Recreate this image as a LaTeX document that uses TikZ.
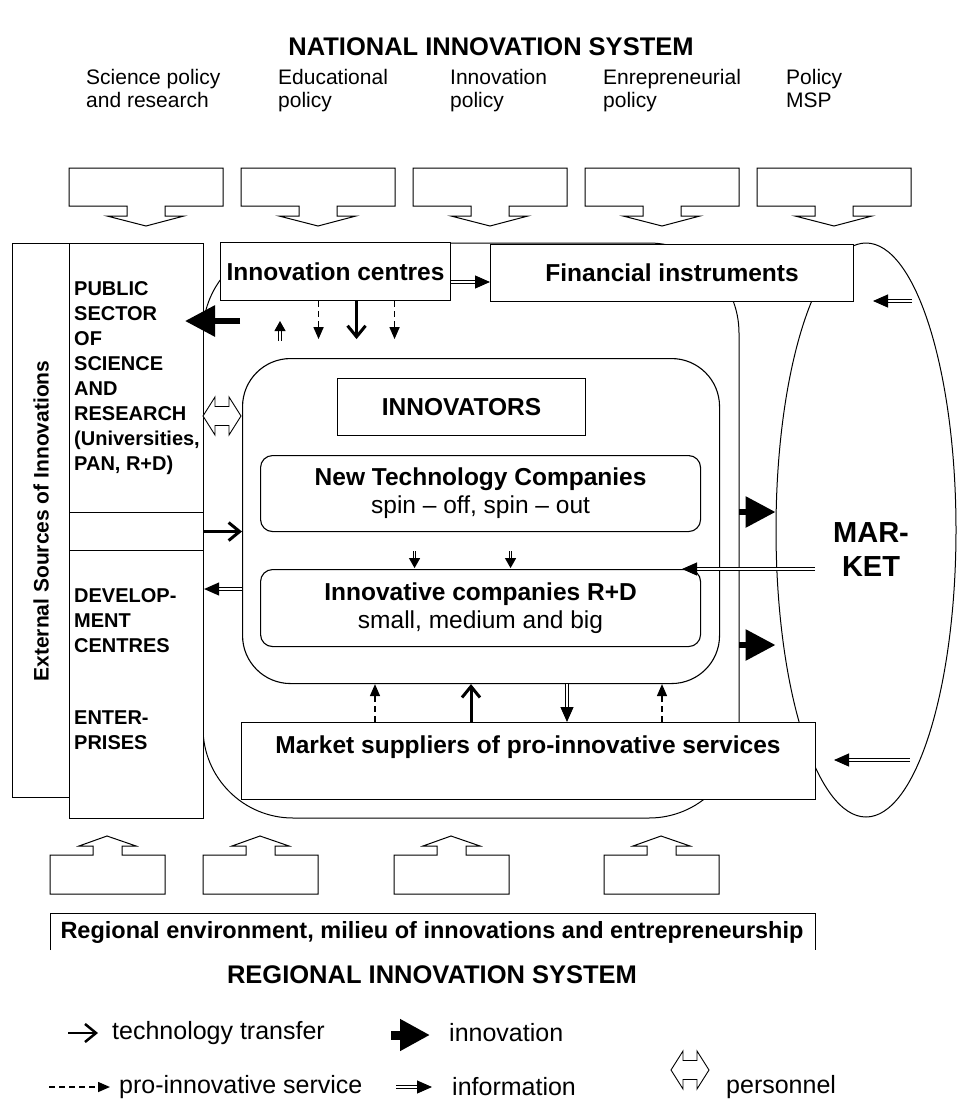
\documentclass[tikz,border=0pt]{standalone}
\usepackage{fontspec}
\setmainfont{Liberation Sans}
\usetikzlibrary{positioning,arrows.meta,shapes.geometric}

\newcommand\headfont{\fontsize{25.5}{30}\selectfont\bfseries}
\newcommand\polfont{\fontsize{21}{23}\selectfont}
\newcommand\boxfont{\fontsize{24.5}{28}\selectfont\bfseries}
\newcommand\sidefont{\fontsize{20}{25}\selectfont\bfseries}
\newcommand\extfont{\fontsize{21}{25}\selectfont\bfseries}
\newcommand\mktfont{\fontsize{29}{34}\selectfont\bfseries}
\newcommand\regfont{\fontsize{23.5}{27}\selectfont\bfseries}
\newcommand\legfont{\fontsize{25}{30}\selectfont}

\begin{document}
\begin{tikzpicture}[x=1pt, y=-1pt,
  box/.style={draw, fill=white, line width=1.1pt, inner sep=0pt, anchor=north west},
  sidetext/.style={anchor=north west, align=left, inner sep=0pt, font=\sidefont},
  poltext/.style={anchor=north west, align=left, inner sep=0pt, font=\polfont},
  legtext/.style={anchor=west, inner sep=0pt, font=\legfont},
  blockarrow/.style={draw, line width=1pt, fill=white},
  tech/.style={line width=3pt, -{Straight Barb[length=11pt,width=18pt]}},
  service/.style={line width=1.5pt, dash pattern=on 6pt off 4pt, -{Triangle[length=12pt,width=10pt]}},
  info/.style={double, double distance=1.4pt, line width=1.1pt, -{Triangle[length=15pt,width=13pt]}},
  smallinfo/.style={info, -{Triangle[length=10pt,width=11pt]}},
  innov/.style={line width=6pt, -{Triangle[length=30pt,width=30pt]}},
  pers/.pic={\draw[line width=0.9pt, fill=white] (-19,0) -- (-7,-19) -- (-7,-9.5) -- (7,-9.5) -- (7,-19) -- (19,0) -- (7,19) -- (7,9.5) -- (-7,9.5) -- (-7,19) -- cycle;}
]
\useasboundingbox (0,0) rectangle (957,1101);

% national level
\node[font=\headfont] (nis) at (491,47) {NATIONAL INNOVATION SYSTEM};
\foreach \px/\ptext [count=\i] in {86/{Science policy\\and research}, 278/{Educational\\policy}, 450/{Innovation\\policy}, 603/{Enrepreneurial\\policy}, 786/{Policy\\MSP}}
  \node[poltext] (pol\i) at (\px,69) {\ptext};
\foreach \bx in {69,241,413,585,757}
  \draw[blockarrow] (\bx,168) -- (\bx+154,168) -- (\bx+154,206) -- (\bx+96,206) -- (\bx+96,216) -- (\bx+115,216)
    -- (\bx+77,226) -- (\bx+38,216) -- (\bx+58,216) -- (\bx+58,206) -- (\bx,206) -- cycle;

% region and market
\draw[line width=1pt, rounded corners=90pt] (203,243) rectangle (739,818);
\node[draw, ellipse, line width=1pt, minimum width=180pt, minimum height=574pt, inner sep=0pt] (mkt) at (866,530) {};

% external sources
\node[box, minimum width=57pt, minimum height=554pt] (ext) at (12,243) {};
\node[font=\extfont, rotate=90] (extlab) at (41,521) {External Sources of Innovations};
\node[box, minimum width=134pt, minimum height=269pt] (pub) at (69,243) {};
\node[box, minimum width=134pt, minimum height=38pt] (mid) at (69,512) {};
\node[box, minimum width=134pt, minimum height=268pt] (dev) at (69,550) {};
\node[sidetext] (publab) at (74,281) {PUBLIC\\SECTOR\\OF\\SCIENCE\\AND\\RESEARCH\\(Universities,\\PAN, R+D)};
\node[sidetext] (devlab) at (74,588) {DEVELOP-\\MENT\\CENTRES};
\node[sidetext] (entlab) at (74,711) {ENTER-\\PRISES};

% centres and innovators
\node[box, minimum width=230pt, minimum height=58pt, font=\boxfont] (ic) at (220,242) {Innovation centres};
\node[box, minimum width=363pt, minimum height=57pt, font=\boxfont] (fin) at (490,244) {Financial instruments};
\node[box, rounded corners=48pt, minimum width=477pt, minimum height=325pt] (inn) at (242,358) {};
\node[box, minimum width=248pt, minimum height=57pt, font=\boxfont] (innov) at (337,378) {INNOVATORS};
\node[box, rounded corners=12pt, minimum width=440pt, minimum height=76pt, align=center, font=\boxfont] (ntc) at (260,455)
  {New Technology Companies\\{\mdseries spin -- off, spin -- out}};
\node[box, rounded corners=12pt, minimum width=440pt, minimum height=77pt, align=center, font=\boxfont] (icr) at (260,569)
  {Innovative companies R+D\\{\mdseries small, medium and big}};
\node[box, minimum width=574pt, minimum height=77pt] (sup) at (241,722) {};
\node[font=\boxfont] (suplab) at (528,747) {Market suppliers of pro-innovative services};
\node[font=\mktfont, align=center] (mktlab) at (871,550) {MAR-\\KET};

% flows at the top
\draw[innov] (240,321) -- (185,321);
\draw[smallinfo] (280,341) -- (280,321);
\draw[service] ([xshift=-17pt]ic.south) -- ++(0,38);
\draw[tech] ([xshift=21pt]ic.south) -- ++(0,38);
\draw[service] ([xshift=59pt]ic.south) -- ++(0,38);
\draw[info] (ic.east |- 0,282) -- (fin.west |- 0,282);
\draw[info] (912,301) -- (873,301);

% flows at the side
\pic at (222,416) {pers};
\draw[tech] (mid.east) -- (inn.west |- mid.east);
\draw[info] (inn.west |- 0,589) -- (dev.east |- 0,589);
\draw[smallinfo] ([xshift=-66pt,yshift=-19pt]ntc.south) -- ++(0,17);
\draw[smallinfo] ([xshift=30pt,yshift=-19pt]ntc.south) -- ++(0,17);
\draw[info] (815,569) -- (682,569);
\draw[innov] (739,512) -- (mkt.west |- 0,512);
\draw[innov] (739,645) -- (mkt.west |- 0,645);
\draw[info] (910,760) -- (834,760);

% flows at the bottom
\draw[service] (sup.north -| 375,0) -- (inn.south -| 375,0);
\draw[tech] (sup.north -| 471,0) -- (inn.south -| 471,0);
\draw[info] (inn.south -| 567,0) -- (sup.north -| 567,0);
\draw[service] (sup.north -| 662,0) -- (inn.south -| 662,0);

% regional level
\foreach \bx in {50,203,394,604}
  \draw[blockarrow] (\bx,894) -- (\bx+115,894) -- (\bx+115,855) -- (\bx+72,855) -- (\bx+72,846) -- (\bx+86,846)
    -- (\bx+57,836) -- (\bx+29,846) -- (\bx+43,846) -- (\bx+43,855) -- (\bx,855) -- cycle;
\draw[line width=1pt] (50,950) -- (50,913) -- (815,913) -- (815,950);
\node[font=\regfont] (reg) at (432,932) {Regional environment, milieu of innovations and entrepreneurship};
\node[font=\headfont] (ris) at (432,975) {REGIONAL INNOVATION SYSTEM};

% legend
\draw[tech, line width=2.5pt] (68,1033) -- (98,1033);
\node[legtext] (lg1) at (112,1033) {technology transfer};
\draw[innov, line width=9pt] (391,1035) -- (430,1035);
\node[legtext] (lg2) at (449,1033) {innovation};
\draw[service] (49,1087) -- (110,1087);
\node[legtext] (lg3) at (119,1087) {pro-innovative service};
\draw[info] (396,1087) -- (432,1087);
\node[legtext] (lg4) at (452,1087) {information};
\pic at (690,1070) {pers};
\node[legtext] (lg5) at (726,1087) {personnel};
\end{tikzpicture}
\end{document}
